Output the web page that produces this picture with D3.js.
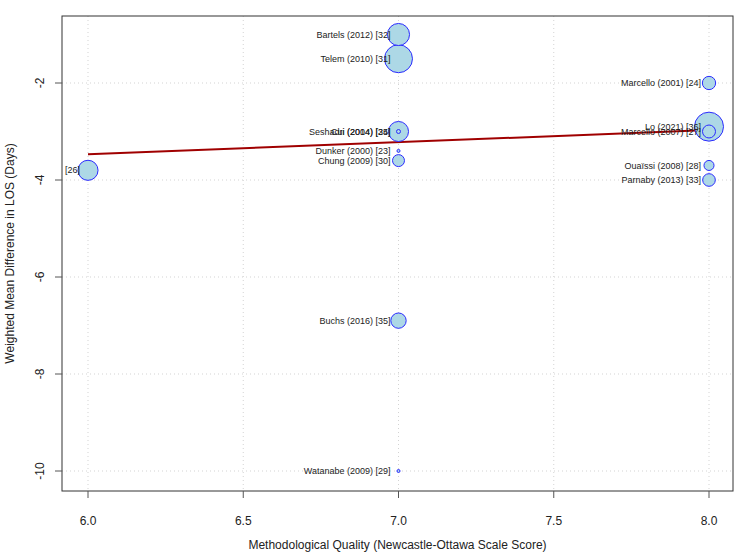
<!DOCTYPE html>
<html>
<head>
<meta charset="utf-8">
<script src="https://cdn.jsdelivr.net/npm/d3@7"></script>
<style>
  body { margin: 0; background: #fff; }
  svg { font-family: "Liberation Sans", Arial, sans-serif; }
</style>
</head>
<body>
<div id="chart"></div>
<script>
// study labels, NOS score, weighted mean difference, relative weight
const studies = [
  'Bartels (2012) [32]', 'Telem (2010) [31]', 'Marcello (2001) [24]', 'Lo (2021) [36]',
  'Marcello (2007) [27]', 'Ouaïssi (2008) [28]', 'Parnaby (2013) [33]', '[26]',
  'Seshadri (2004) [25]', 'Cui (2014) [34]', 'Dunker (2000) [23]', 'Chung (2009) [30]',
  'Buchs (2016) [35]', 'Watanabe (2009) [29]'
];
const quality = [7, 7, 8, 8, 8, 8, 8, 6, 7, 7, 7, 7, 7, 7];
const wmd = [-1.0, -1.5, -2.0, -2.9, -3.0, -3.7, -4.0, -3.8, -3.0, -3.0, -3.4, -3.6, -6.9, -10.0];
const weight = [5.8, 9.3, 2.1, 10.0, 2.0, 1.2, 1.9, 4.8, 4.8, 0.19, 0.11, 1.7, 2.8, 0.11];

// fitted meta-regression line
const fitX = [6.0, 8.0];
const fitY = [-3.47, -2.97];

const xTicks = [6.0, 6.5, 7.0, 7.5, 8.0];
const yTicks = [-10, -8, -6, -4, -2];

const W = 750, H = 560;
const box = { left: 62, right: 733, top: 16, bottom: 491 };

const svg = d3.select('#chart').append('svg')
  .attr('width', W).attr('height', H);

const x = d3.scaleLinear().domain([6, 8]).range([88, 709]);
const y = d3.scaleLinear().domain([-10, -2]).range([471, 83]);
const r = d3.scaleSqrt().domain([0, 10]).range([0, 14.5]);

const data = studies.map((s, i) => ({
  label: s, q: quality[i], d: wmd[i], w: weight[i]
}));

svg.append('clipPath').attr('id', 'plotclip')
  .append('rect')
  .attr('x', box.left).attr('y', box.top)
  .attr('width', box.right - box.left).attr('height', box.bottom - box.top);

// grid
const grid = svg.append('g')
  .attr('stroke', '#d3d3d3').attr('stroke-dasharray', '1,3');
grid.selectAll('.gx').data(xTicks).join('line')
  .attr('x1', d => x(d)).attr('x2', d => x(d))
  .attr('y1', box.top).attr('y2', box.bottom);
grid.selectAll('.gy').data(yTicks).join('line')
  .attr('y1', d => y(d)).attr('y2', d => y(d))
  .attr('x1', box.left).attr('x2', box.right);

const plot = svg.append('g').attr('clip-path', 'url(#plotclip)');

// regression line
plot.append('path')
  .datum(fitX.map((v, i) => [v, fitY[i]]))
  .attr('fill', 'none')
  .attr('stroke', '#a00000')
  .attr('stroke-width', 2)
  .attr('d', d3.line().x(d => x(d[0])).y(d => y(d[1])));

// bubbles, biggest first so small ones stay visible
const sorted = data.slice().sort((a, b) => b.w - a.w);
plot.selectAll('.pt').data(sorted).join('circle')
  .attr('cx', d => x(d.q))
  .attr('cy', d => y(d.d))
  .attr('r', d => Math.max(r(d.w), 1.5))
  .attr('fill', '#add8e6')
  .attr('stroke', '#2b2bff')
  .attr('stroke-width', 1);

// labels to the left of each point, on top of the bubbles
plot.selectAll('.lab').data(data).join('text')
  .attr('x', d => x(d.q) - 8)
  .attr('y', d => y(d.d))
  .attr('dy', '0.35em')
  .attr('text-anchor', 'end')
  .attr('font-size', 9)
  .attr('fill', '#222')
  .text(d => d.label);

// frame
svg.append('rect')
  .attr('x', box.left).attr('y', box.top)
  .attr('width', box.right - box.left).attr('height', box.bottom - box.top)
  .attr('fill', 'none').attr('stroke', '#333').attr('stroke-width', 1);

// x axis
const xa = svg.append('g');
xa.selectAll('line').data(xTicks).join('line')
  .attr('x1', d => x(d)).attr('x2', d => x(d))
  .attr('y1', box.bottom).attr('y2', box.bottom + 7)
  .attr('stroke', '#555');
xa.selectAll('text').data(xTicks).join('text')
  .attr('x', d => x(d)).attr('y', 525)
  .attr('text-anchor', 'middle')
  .attr('font-size', 12).attr('fill', '#222')
  .text(d => d.toFixed(1));

svg.append('text')
  .attr('x', (box.left + box.right) / 2).attr('y', 549)
  .attr('text-anchor', 'middle')
  .attr('font-size', 12).attr('fill', '#222')
  .text('Methodological Quality (Newcastle-Ottawa Scale Score)');

// y axis
const ya = svg.append('g');
ya.selectAll('line').data(yTicks).join('line')
  .attr('x1', box.left - 7).attr('x2', box.left)
  .attr('y1', d => y(d)).attr('y2', d => y(d))
  .attr('stroke', '#555');
ya.selectAll('text').data(yTicks).join('text')
  .attr('transform', d => `translate(44,${y(d)}) rotate(-90)`)
  .attr('text-anchor', 'middle')
  .attr('font-size', 12).attr('fill', '#222')
  .text(d => d);

svg.append('text')
  .attr('transform', `translate(14,${(box.top + box.bottom) / 2}) rotate(-90)`)
  .attr('text-anchor', 'middle')
  .attr('font-size', 12).attr('fill', '#222')
  .text('Weighted Mean Difference in LOS (Days)');
</script>
</body>
</html>
